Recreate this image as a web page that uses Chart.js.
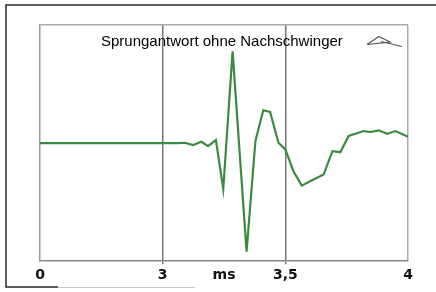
<!DOCTYPE html>
<html>
<head>
<meta charset="utf-8">
<script src="https://cdn.jsdelivr.net/npm/chart.js@4/dist/chart.umd.min.js"></script>
<style>
  html, body { margin: 0; padding: 0; background: #fff; }
  #wrap { width: 436px; height: 292px; position: relative; }
</style>
</head>
<body>
<div id="wrap"><canvas id="myChart" width="436" height="292"></canvas></div>
<script>
// time in ms, response (normalised)
const times = [0, 3.0, 3.063, 3.090, 3.124, 3.158, 3.185, 3.217, 3.247, 3.285,
               3.342, 3.378, 3.410, 3.438, 3.472, 3.500, 3.533, 3.567, 3.601, 3.656,
               3.692, 3.724, 3.758, 3.819, 3.847, 3.881, 3.915, 3.949, 4.0];
const response = [0, 0, 0, 0.003, -0.017, 0.011, -0.026, 0.026, -0.389, 0.777,
                  -0.919, 0.017, 0.278, 0.264, 0.003, -0.054, -0.238, -0.36, -0.323, -0.266,
                  -0.068, -0.077, 0.06, 0.102, 0.094, 0.108, 0.079, 0.102, 0.054];
const tickPositions = [0, 1, 1.5, 2, 3];
const tickLabels = ['0', '3', 'ms', '3,5', '4'];
const title = 'Sprungantwort ohne Nachschwinger';

// broken axis: 0..3 ms, 3..3.5 ms and 3.5..4 ms each take one third
const toAxis = t => t <= 3 ? t / 3 : 1 + (t - 3) * 2;

const points = times.map((t, i) => ({x: toAxis(t), y: response[i]}));

const decor = {
    id: 'decor',
    beforeDraw(chart) {
        const c = chart.ctx;
        c.save();
        c.strokeStyle = '#2a2a2a';
        c.lineWidth = 1.5;
        c.beginPath();
        c.moveTo(436, 5); c.lineTo(6, 5); c.lineTo(6, 287); c.lineTo(58, 287);
        c.stroke();
        c.strokeStyle = '#c8c8c8';
        c.lineWidth = 1;
        c.beginPath();
        c.moveTo(58, 287.5); c.lineTo(195, 287.5);
        c.stroke();
        c.restore();
    },
    afterDraw(chart) {
        const c = chart.ctx;
        c.save();
        c.fillStyle = '#000';
        c.font = '15px "Liberation Sans", Arial, sans-serif';
        c.textBaseline = 'alphabetic';
        c.fillText(title, 101, 46);
        c.strokeStyle = '#555';
        c.lineWidth = 1.2;
        c.beginPath();
        c.moveTo(367, 44.5); c.lineTo(379, 36.5); c.lineTo(390, 42); c.lineTo(367, 44.5);
        c.moveTo(381, 41.5); c.lineTo(402, 46.5);
        c.stroke();
        c.restore();
    }
};

new Chart(document.getElementById('myChart').getContext('2d'), {
    type: 'line',
    data: {
        datasets: [{
            data: points,
            borderColor: '#3b8a43',
            borderWidth: 2.2,
            pointRadius: 0,
            tension: 0
        }]
    },
    options: {
        responsive: false,
        animation: false,
        layout: {padding: {left: 40, right: 28, top: 25, bottom: 5}},
        plugins: {legend: {display: false}, tooltip: {enabled: false}},
        scales: {
            x: {
                type: 'linear',
                min: 0,
                max: 3,
                afterBuildTicks: axis => { axis.ticks = tickPositions.map(v => ({value: v})); },
                ticks: {
                    autoSkip: false,
                    maxRotation: 0,
                    padding: 3,
                    color: '#111',
                    font: {family: '"DejaVu Sans", sans-serif', size: 14, weight: 'bold'},
                    callback: (v, i) => tickLabels[i]
                },
                grid: {
                    drawTicks: true,
                    tickLength: 3,
                    lineWidth: 1.5,
                    color: ctx => (ctx.tick && (ctx.tick.value === 1 || ctx.tick.value === 2)) ? '#777' :
                                  (ctx.tick && ctx.tick.value === 3) ? '#aaa' : 'rgba(0,0,0,0)',
                    tickColor: ctx => (ctx.tick && (ctx.tick.value === 1 || ctx.tick.value === 2)) ? '#777' : 'rgba(0,0,0,0)'
                },
                border: {color: '#888', width: 1.5}
            },
            y: {
                min: -1,
                max: 1,
                afterBuildTicks: axis => { axis.ticks = [{value: -1}, {value: 1}]; },
                ticks: {display: false},
                grid: {
                    drawTicks: false,
                    lineWidth: 1.5,
                    color: ctx => (ctx.tick && ctx.tick.value === 1) ? '#aaa' : 'rgba(0,0,0,0)'
                },
                border: {color: '#999', width: 1.5}
            }
        }
    },
    plugins: [decor]
});
</script>
</body>
</html>
